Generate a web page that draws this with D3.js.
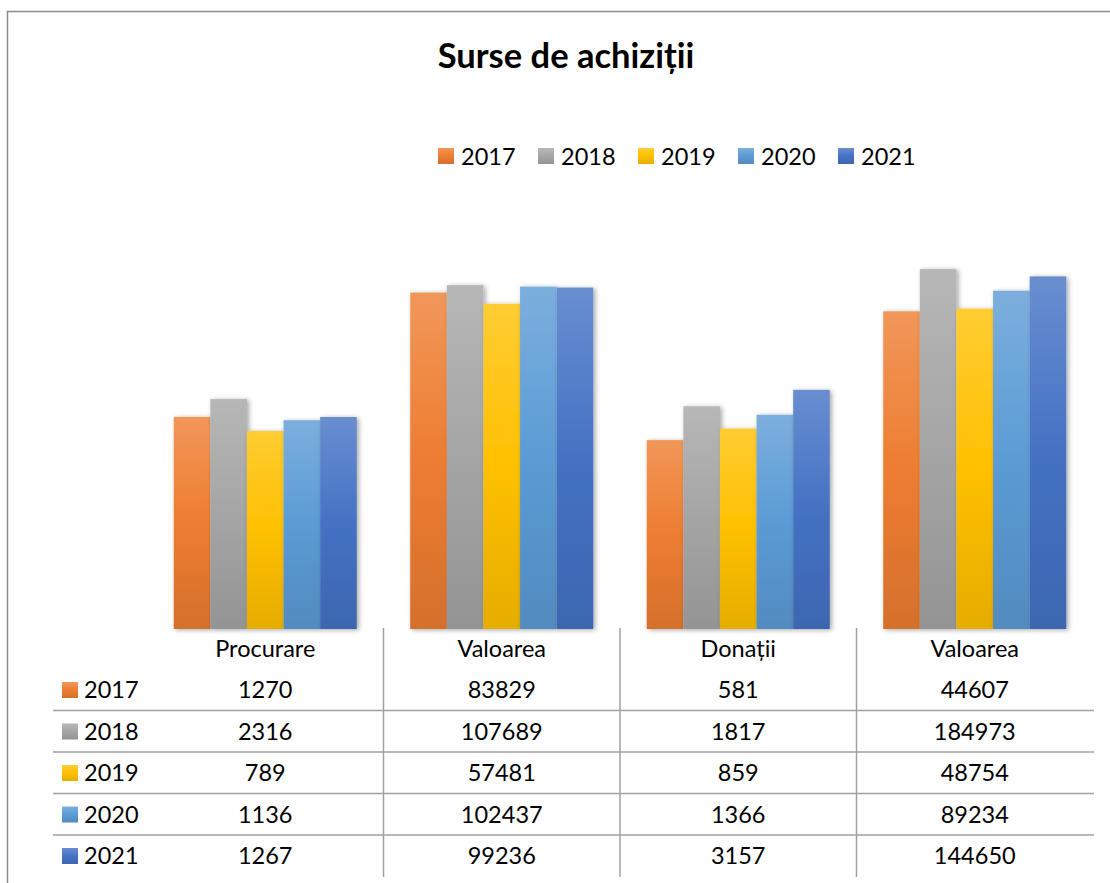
<!DOCTYPE html>
<html>
<head>
<meta charset="utf-8">
<script src="https://cdn.jsdelivr.net/npm/d3@7"></script>
<style>
  body { margin: 0; background: #fff; }
  svg { display: block; font-family: Lato, "Open Sans", sans-serif; }
</style>
</head>
<body>
<svg id="chart" width="1110" height="883"></svg>
<script>
// Data
const categories = ["Procurare", "Valoarea", "Donații", "Valoarea "];
const years = ["2017", "2018", "2019", "2020", "2021"];
const values = {
    "2017": [1270, 83829, 581, 44607],
    "2018": [2316, 107689, 1817, 184973],
    "2019": [789, 57481, 859, 48754],
    "2020": [1136, 102437, 1366, 89234],
    "2021": [1267, 99236, 3157, 144650]
};
const colors = ["#ED7D31", "#A5A5A5", "#FFC000", "#5B9BD5", "#4472C4"];

const fontSize = 23.5;

const svg = d3.select("#chart");
const defs = svg.append("defs");

// Gradients: light at top, base in middle, darker at bottom
years.forEach((yr, i) => {
    const c = d3.color(colors[i]);
    const g = defs.append("linearGradient")
        .attr("id", "grad" + i)
        .attr("x1", 0).attr("y1", 0).attr("x2", 0).attr("y2", 1);
    g.append("stop").attr("offset", "0%").attr("stop-color", d3.interpolateRgb(c, "#fff")(0.2));
    g.append("stop").attr("offset", "50%").attr("stop-color", c.formatHex());
    g.append("stop").attr("offset", "100%").attr("stop-color", c.darker(0.3).formatHex());
});

const shadow = defs.append("filter").attr("id", "shadow")
    .attr("x", "-20%").attr("y", "-10%").attr("width", "150%").attr("height", "130%");
shadow.append("feDropShadow")
    .attr("dx", 2).attr("dy", 1).attr("stdDeviation", 2.5)
    .attr("flood-color", "#000").attr("flood-opacity", 0.35);

// Chart frame
svg.append("path")
    .attr("d", "M7.5,883 V11.5 H1110")
    .attr("fill", "none").attr("stroke", "#8c8c8c").attr("stroke-width", 1.5);

// Title
svg.append("text")
    .attr("x", 566).attr("y", 68)
    .attr("text-anchor", "middle")
    .attr("font-size", 34.5).attr("font-weight", "bold")
    .attr("fill", "#000")
    .text("Surse de achiziții");

// Legend
const legend = svg.append("g").attr("transform", "translate(438,148)");
const li = legend.selectAll("g").data(years).enter().append("g")
    .attr("transform", (d, i) => `translate(${i * 100},0)`);
li.append("rect").attr("width", 16).attr("height", 16)
    .attr("fill", (d, i) => `url(#grad${i})`);
li.append("text").attr("x", 23).attr("y", 16.5)
    .attr("font-size", fontSize).attr("fill", "#000").text(d => d);

// Scales
const x0 = d3.scaleBand().domain(categories).range([147, 1093]).padding(0);
const barW = x0.bandwidth() / (years.length + 1.46);
const x1 = d3.scaleBand().domain(years)
    .range([0, barW * years.length]).padding(0);
const groupOffset = (x0.bandwidth() - barW * years.length) / 2;
const y = d3.scaleLog().domain([1, 1e6]).range([629, 219]);

// Bars
const groups = svg.append("g").selectAll("g").data(categories).enter().append("g")
    .attr("transform", d => `translate(${x0(d) + groupOffset},0)`);
groups.selectAll("rect")
    .data((d, ci) => years.map((yr, i) => ({ yr, i, v: values[yr][ci] })))
    .enter().append("rect")
    .attr("x", d => x1(d.yr))
    .attr("y", d => y(d.v))
    .attr("width", x1.bandwidth())
    .attr("height", d => y(1) - y(d.v))
    .attr("fill", d => `url(#grad${d.i})`)
    .attr("filter", "url(#shadow)");

// Data table
const table = svg.append("g");
const rowH = 41.5;
const firstRowBase = 698;

// vertical separators
table.selectAll(".vline").data(categories.slice(1)).enter().append("line")
    .attr("x1", d => x0(d)).attr("x2", d => x0(d))
    .attr("y1", 628).attr("y2", 877)
    .attr("stroke", "#a0a0a0").attr("stroke-width", 1.5);

// horizontal separators
table.selectAll(".hline").data(d3.range(1, years.length)).enter().append("line")
    .attr("x1", 53).attr("x2", 1094)
    .attr("y1", d => 669 + d * rowH).attr("y2", d => 669 + d * rowH)
    .attr("stroke", "#a0a0a0").attr("stroke-width", 1.5);

// header
table.selectAll(".head").data(categories).enter().append("text")
    .attr("x", d => x0(d) + x0.bandwidth() / 2)
    .attr("y", 657)
    .attr("text-anchor", "middle")
    .attr("font-size", fontSize).attr("fill", "#000")
    .text(d => d.trim());

// rows
years.forEach((yr, i) => {
    const base = firstRowBase + i * rowH;
    table.append("rect")
        .attr("x", 62).attr("y", base - 16)
        .attr("width", 16).attr("height", 16)
        .attr("fill", `url(#grad${i})`);
    table.append("text")
        .attr("x", 84).attr("y", base)
        .attr("font-size", fontSize).attr("fill", "#000")
        .text(yr);
    table.selectAll(".cell" + i).data(categories).enter().append("text")
        .attr("x", d => x0(d) + x0.bandwidth() / 2)
        .attr("y", base)
        .attr("text-anchor", "middle")
        .attr("font-size", fontSize).attr("fill", "#000")
        .text((d, ci) => values[yr][ci]);
});
</script>
</body>
</html>
